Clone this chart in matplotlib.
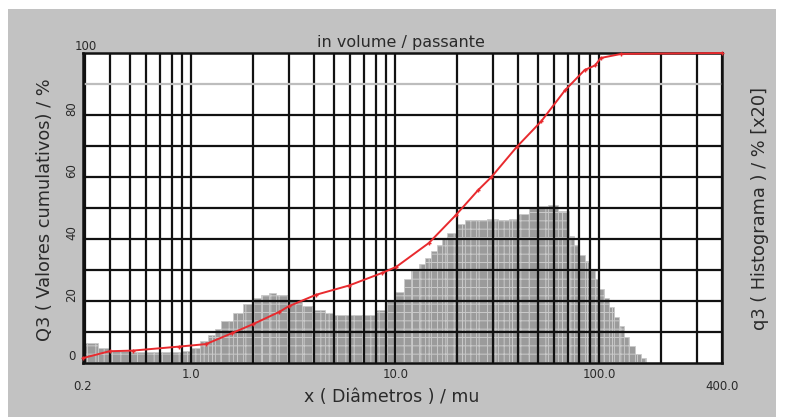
import matplotlib
matplotlib.use("Agg")
import matplotlib.pyplot as plt
from matplotlib.patches import Rectangle
from matplotlib.ticker import FixedLocator, NullFormatter
import matplotlib.transforms as mtransforms

# ---------------- data ----------------
# histogram class edges (µm) and q3 heights (% on the 0-100 scale, x20)
bin_edges = [0.3, 0.35, 0.4, 0.5, 0.6, 0.7, 0.8, 0.9, 1.0, 1.1, 1.2, 1.3, 1.4,
             1.6, 1.8, 2.0, 2.2, 2.4, 2.6, 3.0, 3.5, 4.0, 4.5, 5.0, 6.0, 7.0,
             8.0, 9.0, 10, 11, 12, 13, 14, 15, 16, 17, 18, 20, 22, 25, 28, 32,
             36, 40, 45, 50, 56, 63, 71, 75, 80, 85, 90, 95, 100, 106, 112,
             118, 125, 132, 140, 150, 160, 170]
q3_hist = [6.5, 5.0, 4.0, 3.5, 3.5, 3.5, 3.5, 4.0, 5.0, 7.0, 9.0, 11.0, 13.5,
           16.0, 19.0, 21.0, 22.0, 22.5, 22.0, 20.0, 18.5, 17.0, 16.0, 15.5,
           15.5, 15.5, 17.0, 20.0, 23.0, 27.0, 30.0, 32.0, 34.0, 36.0, 38.0,
           40.0, 42.0, 45.0, 46.0, 46.0, 46.5, 46.0, 46.5, 48.0, 50.0, 50.5,
           51.0, 49.0, 41.0, 38.0, 35.0, 33.0, 30.0, 27.0, 24.0, 21.0, 18.0,
           15.0, 12.0, 8.5, 5.5, 3.0, 1.5]

# cumulative curve Q3 (passing, %)
cum_x = [0.294, 0.397, 0.515, 0.874, 1.18, 1.59, 2.0, 2.7, 3.0, 4.08, 5.93,
         8.57, 10.1, 14.6, 19.8, 25.5, 29.6, 39.4, 52, 68, 84.8, 95.4, 101.8,
         128, 400]
cum_y = [1.6, 3.8, 4.0, 5.3, 6.1, 9.7, 12.5, 16.5, 18.3, 22.0, 25.0, 29.0,
         31.0, 38.7, 47.7, 55.8, 60.0, 69.7, 78.0, 88.0, 94.5, 96.0, 98.4,
         99.7, 100.0]

x_tick_vals = [1.0, 10.0, 100.0]
x_tick_labels = ["1.0", "10.0", "100.0"]
x_edge_labels = ["0.2", "400.0"]
y_tick_vals = [0, 20, 40, 60, 80, 100]
y_tick_labels = ["0", "20", "40", "60", "80", "100"]

title = "in volume / passante"
xlabel = "x ( Diâmetros ) / mu"
ylabel_left = "Q3 ( Valores cumulativos) / %"
ylabel_right = "q3 ( Histograma ) / % [x20]"

# ---------------- figure ----------------
W, H = 788, 417
plt.rcParams["font.family"] = ["DejaVu Sans"]
fig = plt.figure(figsize=(W / 100, H / 100), dpi=100, facecolor="white")

bg = "#c2c2c2"
txt = "#2a2a2a"
fig.patches.append(Rectangle((8 / W, 0), (776 - 8) / W, (H - 9) / H,
                             transform=fig.transFigure, facecolor=bg,
                             edgecolor="none", zorder=-10))

L, R, T, B = 83, 722, 53, 363
ax = fig.add_axes([L / W, 1 - B / H, (R - L) / W, (B - T) / H])
ax.set_zorder(5)
ax.set_facecolor("white")
ax.set_xscale("log")
ax.set_xlim(0.294, 400)
ax.set_ylim(0, 100)

# histogram
lefts = bin_edges[:-1]
widths = [b - a for a, b in zip(bin_edges[:-1], bin_edges[1:])]
plt.rcParams["hatch.color"] = "#d4d4d4"
plt.rcParams["hatch.linewidth"] = 0.7
ax.bar(lefts, q3_hist, width=widths, align="edge", color="#9b9b9b",
       edgecolor="#cacaca", linewidth=0.5, hatch="++", zorder=1)

# grid lines
minor = []
for dec in [0.1, 1, 10, 100]:
    for k in range(1, 10):
        v = k * dec
        if 0.294 < v <= 400:
            minor.append(v)
for v in minor:
    ax.axvline(v, color="#111111", lw=1.6, zorder=2)
for yv in range(10, 100, 10):
    if yv == 90:
        ax.axhline(yv, color="#bdbdbd", lw=1.6, zorder=2)
    else:
        ax.axhline(yv, color="#111111", lw=1.6, zorder=2)

# cumulative curve
ax.plot(cum_x, cum_y, color="#e82a2e", lw=1.4, marker="+", ms=3.5,
        mew=1.0, zorder=4, clip_on=False)

for s in ax.spines.values():
    s.set_color("#111111")
    s.set_linewidth(1.8)
    s.set_zorder(3)

ax.tick_params(which="both", length=0)
ax.xaxis.set_major_locator(FixedLocator([]))
ax.xaxis.set_minor_locator(FixedLocator([]))
ax.xaxis.set_major_formatter(NullFormatter())
ax.xaxis.set_minor_formatter(NullFormatter())
ax.set_yticks([])

# x labels
tr = mtransforms.blended_transform_factory(ax.transData, fig.transFigure)
fs_tick = 8.5
for v, lab in zip(x_tick_vals, x_tick_labels):
    ax.text(v, 1 - 374 / H, lab, transform=tr, ha="center", va="center",
            fontsize=fs_tick, color=txt, clip_on=False)
ax.text(0.294, 1 - 386 / H, x_edge_labels[0], transform=tr, ha="center",
        va="center", fontsize=fs_tick, color=txt, clip_on=False)
ax.text(400, 1 - 386 / H, x_edge_labels[1], transform=tr, ha="center",
        va="center", fontsize=fs_tick, color=txt, clip_on=False)

# y labels
ty = mtransforms.blended_transform_factory(fig.transFigure, ax.transData)
for v, lab in zip(y_tick_vals, y_tick_labels):
    if v == 100:
        fig.text(86 / W, 1 - 47 / H, lab, ha="center", va="center",
                 fontsize=fs_tick, color=txt)
        continue
    rot = 0 if v == 0 else 90
    ax.text(72 / W, v + 2.0, lab, transform=ty, ha="center", va="center",
            fontsize=fs_tick, rotation=rot, color=txt, clip_on=False)

fig.text(401 / W, 1 - 42 / H, title, ha="center", va="center", fontsize=11.5,
         color=txt)
fig.text(392 / W, 1 - 397 / H, xlabel, ha="center", va="center",
         fontsize=12.5, color=txt)
fig.text(45 / W, 1 - 210 / H, ylabel_left, ha="center", va="center",
         rotation=90, fontsize=12.8, color=txt)
fig.text(760 / W, 1 - 208 / H, ylabel_right, ha="center", va="center",
         rotation=90, fontsize=12.8, color=txt)

fig.savefig("out.png", dpi=100, facecolor="white")
